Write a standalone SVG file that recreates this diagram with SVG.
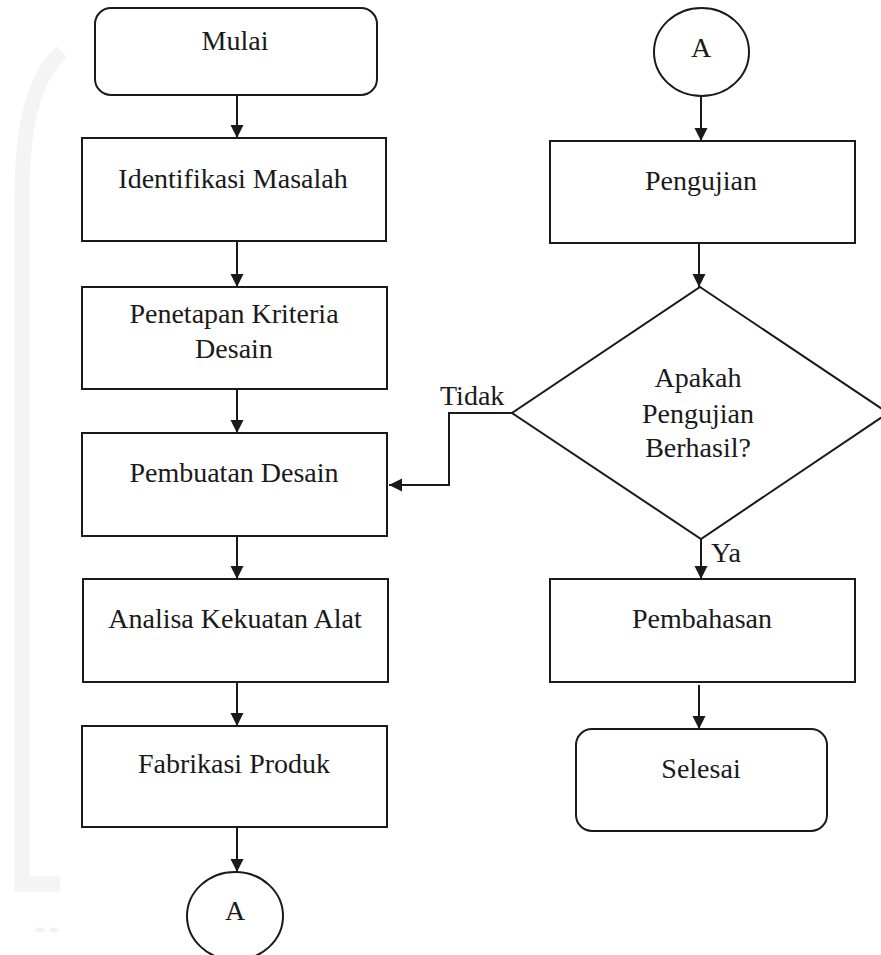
<svg xmlns="http://www.w3.org/2000/svg" width="881" height="955" viewBox="0 0 881 955">
  <style>
    .box { fill: #ffffff; stroke: #1a1a1a; stroke-width: 2; }
    .lbl { font-family: "Liberation Serif", "Times New Roman", serif; font-size: 28px; fill: #1a1a1a; text-anchor: middle; }
    .lbl-start { font-family: "Liberation Serif", "Times New Roman", serif; font-size: 28px; fill: #1a1a1a; text-anchor: start; }
    .edge { fill: none; stroke: #1a1a1a; stroke-width: 2; }
    .wm { fill: none; stroke: #f4f4f4; stroke-width: 15; }
  </style>
  <defs>
    <marker id="arrow" markerUnits="userSpaceOnUse" markerWidth="14" markerHeight="14" viewBox="0 0 14 14" refX="13" refY="7" orient="auto">
      <path d="M0,0.5 L13,7 L0,13.5 z" fill="#1a1a1a"/>
    </marker>
  </defs>
  <rect width="881" height="955" fill="#ffffff"/>

  <!-- faint watermark -->
  <g id="watermark">
    <path class="wm" d="M62,52 Q23,85 22,190 L22,884 L60,884"/>
    <path d="M34,930 l6,-3 l6,3 l-6,3 z M48,930 l6,-3 l6,3 l-6,3 z" fill="#f1f1f1"/>
  </g>

  <!-- connectors -->
  <g id="connectors">
    <path class="edge" d="M237,95 L237,138" marker-end="url(#arrow)"/>
    <path class="edge" d="M237,241 L237,287" marker-end="url(#arrow)"/>
    <path class="edge" d="M237,389 L237,433" marker-end="url(#arrow)"/>
    <path class="edge" d="M237,536 L237,579" marker-end="url(#arrow)"/>
    <path class="edge" d="M237,682 L237,726" marker-end="url(#arrow)"/>
    <path class="edge" d="M237,827 L237,872" marker-end="url(#arrow)"/>
    <path class="edge" d="M701,96 L701,141" marker-end="url(#arrow)"/>
    <path class="edge" d="M699,243 L699,287" marker-end="url(#arrow)"/>
    <path class="edge" d="M512,413 L449,413 L449,485 L389,485" marker-end="url(#arrow)"/>
    <path class="edge" d="M701,539 L701,579" marker-end="url(#arrow)"/>
    <path class="edge" d="M699,685 L699,729" marker-end="url(#arrow)"/>
    <text class="lbl-start" x="440" y="405">Tidak</text>
    <text class="lbl-start" x="711" y="562">Ya</text>
  </g>

  <!-- left column -->
  <g id="mulai">
    <rect class="box" x="95" y="8" width="282" height="87" rx="16" ry="16"/>
    <text class="lbl" x="235" y="50">Mulai</text>
  </g>
  <g id="identifikasi">
    <rect class="box" x="82" y="138" width="304" height="103"/>
    <text class="lbl" x="233" y="188">Identifikasi Masalah</text>
  </g>
  <g id="penetapan">
    <rect class="box" x="82" y="287" width="305" height="102"/>
    <text class="lbl" x="234" y="323">Penetapan Kriteria</text>
    <text class="lbl" x="234" y="358">Desain</text>
  </g>
  <g id="pembuatan">
    <rect class="box" x="82" y="433" width="305" height="103"/>
    <text class="lbl" x="234" y="482">Pembuatan Desain</text>
  </g>
  <g id="analisa">
    <rect class="box" x="83" y="579" width="305" height="103"/>
    <text class="lbl" x="235" y="628">Analisa Kekuatan Alat</text>
  </g>
  <g id="fabrikasi">
    <rect class="box" x="82" y="726" width="305" height="101"/>
    <text class="lbl" x="234" y="773">Fabrikasi Produk</text>
  </g>
  <g id="connector-a-bottom">
    <ellipse class="box" cx="235" cy="916" rx="48" ry="44"/>
    <text class="lbl" x="235" y="920">A</text>
  </g>

  <!-- right column -->
  <g id="connector-a-top">
    <ellipse class="box" cx="701.5" cy="52" rx="47.5" ry="44"/>
    <text class="lbl" x="701" y="57">A</text>
  </g>
  <g id="pengujian">
    <rect class="box" x="550" y="141" width="305" height="102"/>
    <text class="lbl" x="701" y="190">Pengujian</text>
  </g>
  <g id="keputusan">
    <polygon class="box" points="700,287 888,413 701,539 512,413"/>
    <text class="lbl" x="698" y="387">Apakah</text>
    <text class="lbl" x="698" y="423">Pengujian</text>
    <text class="lbl" x="698" y="457">Berhasil?</text>
  </g>
  <g id="pembahasan">
    <rect class="box" x="550" y="579" width="305" height="103"/>
    <text class="lbl" x="702" y="628">Pembahasan</text>
  </g>
  <g id="selesai">
    <rect class="box" x="576" y="729" width="251" height="102" rx="16" ry="16"/>
    <text class="lbl" x="701" y="778">Selesai</text>
  </g>
</svg>
